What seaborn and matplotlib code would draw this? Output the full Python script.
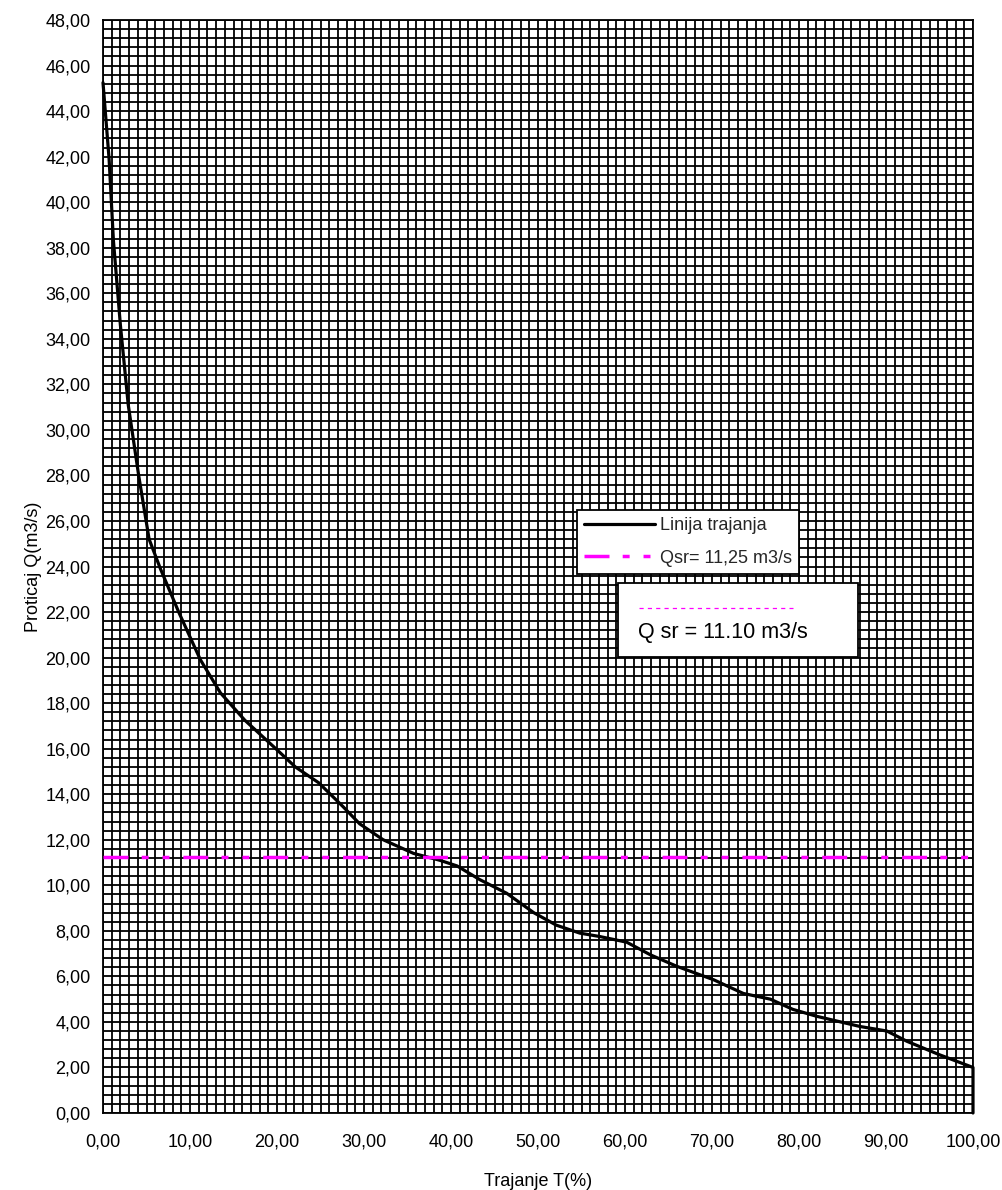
import numpy as np
import pandas as pd
import matplotlib
matplotlib.use("Agg")
import matplotlib.pyplot as plt
from matplotlib.patches import Rectangle
from matplotlib.lines import Line2D
import seaborn as sns

# ---- data ----
trajanje = [0, 0.7, 1.2, 2.0, 2.9, 4.1, 5.3, 6.6, 8.7, 11.2, 13.5, 16.3, 20.0, 22.1,
            24.8, 27.6, 29.5, 32.2, 35.7, 38.7, 40.7, 43.3, 46.4, 49.5, 52.1, 54.8,
            57.1, 60.2, 62.9, 65.9, 70.2, 73.6, 76.7, 79.3, 82.0, 87.0, 90.1, 92.4,
            96.2, 100.0, 100.0]
proticaj = [45.25, 41.9, 38.3, 34.6, 31.1, 28.0, 25.2, 23.9, 22.0, 19.9, 18.45, 17.25,
            15.95, 15.2, 14.5, 13.45, 12.7, 12.0, 11.4, 11.1, 10.85, 10.25, 9.65, 8.8,
            8.25, 7.9, 7.75, 7.5, 6.95, 6.45, 5.85, 5.25, 5.0, 4.55, 4.25, 3.8, 3.6,
            3.15, 2.55, 2.0, 0.0]
qsr_x = [0, 100]
qsr_y = [11.25, 11.25]
x_ticks = list(range(0, 101, 10))
x_ticklabels = [f"{v:.2f}".replace(".", ",") for v in x_ticks]
y_ticks = list(range(0, 49, 2))
y_ticklabels = [f"{v:.2f}".replace(".", ",") for v in y_ticks]
series_labels = ["Linija trajanja", "Qsr= 11,25 m3/s"]
box_text = "Q sr = 11.10 m3/s"
x_label = "Trajanje T(%)"
y_label = "Proticaj Q(m3/s)"

sns.set_style("white")
plt.rcParams["font.family"] = ["Liberation Sans", "DejaVu Sans"]
plt.rcParams["lines.scale_dashes"] = False

W, H = 1003, 1190
fig = plt.figure(figsize=(W / 100, H / 100), dpi=100)
ax = fig.add_axes([103 / W, 1 - 1113 / H, 870 / W, 1093 / H])

df = pd.DataFrame({"T": trajanje, "Q": proticaj})
sns.lineplot(data=df, x="T", y="Q", ax=ax, estimator=None, sort=False,
             color="black", linewidth=2.3, label=series_labels[0], clip_on=False,
             zorder=3)
dq = pd.DataFrame({"T": qsr_x, "Q": qsr_y})
sns.lineplot(data=dq, x="T", y="Q", ax=ax, estimator=None, sort=False,
             color="#ff00ff", linewidth=2.5, label=series_labels[1],
             linestyle=(0, (18, 9.5, 5, 10, 5, 10)), zorder=4)

ax.set_xlim(0, 100)
ax.set_ylim(0, 48)
ax.set_xticks(x_ticks)
ax.set_xticklabels(x_ticklabels)
ax.set_yticks(y_ticks)
ax.set_yticklabels(y_ticklabels)
ax.set_xticks(np.linspace(0, 100, 101), minor=True)
ax.set_yticks(np.linspace(0, 48, 121), minor=True)
ax.tick_params(which="major", direction="out", length=4, width=1, color="black",
               labelsize=13, labelcolor="black")
ax.tick_params(axis="y", which="major", pad=5)
ax.tick_params(axis="x", which="major", pad=11)
ax.tick_params(which="minor", length=0)
ax.grid(which="both", color="black", linewidth=1.3)
ax.set_axisbelow(True)
for s in ax.spines.values():
    s.set_color("black")
    s.set_linewidth(1.3)

ax.set_xlabel(x_label, fontsize=13, color="black", labelpad=16)
ax.set_ylabel(y_label, fontsize=13, color="black", labelpad=2)

leg = ax.legend(loc="upper left", bbox_to_anchor=(577 / W, 1 - 510 / H),
                bbox_transform=fig.transFigure, borderaxespad=0, fontsize=13,
                frameon=True, fancybox=False, framealpha=1, edgecolor="black",
                handlelength=3.9, handletextpad=0.3, labelspacing=0.85,
                borderpad=0.4)
leg.get_frame().set_linewidth(1.3)
leg.set_zorder(6)

# second annotation box
rect = Rectangle((618 / W, 1 - 657 / H), 240 / W, 74 / H, transform=fig.transFigure,
                 facecolor="white", edgecolor="black", linewidth=1.3, zorder=5)
fig.add_artist(rect)
ln = Line2D([639 / W, 793 / W], [1 - 608 / H, 1 - 608 / H], transform=fig.transFigure,
            color="#ff00ff", linewidth=0.9, linestyle=(0, (3, 3)), zorder=6)
fig.add_artist(ln)
fig.text(638 / W, 1 - 638 / H, box_text, fontsize=15.5, color="black",
         va="baseline", ha="left", zorder=7)

fig.savefig("out.png", dpi=100)
